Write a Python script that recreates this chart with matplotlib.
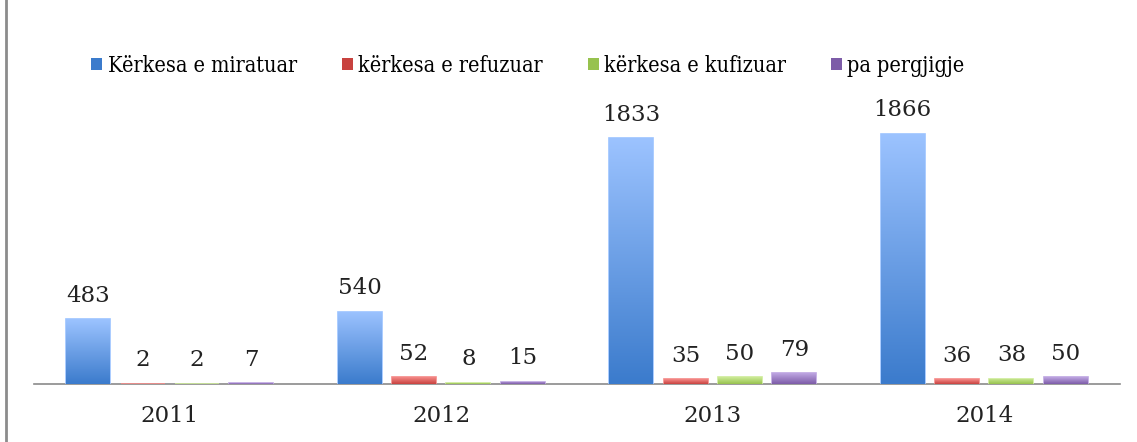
import numpy as np
import matplotlib.pyplot as plt
from matplotlib.patches import Patch
from matplotlib.lines import Line2D

years = ['2011', '2012', '2013', '2014']
series_names = ['Kërkesa e miratuar', 'kërkesa e refuzuar',
                'kërkesa e kufizuar', 'pa pergjigje']
miratuar = [483, 540, 1833, 1866]
refuzuar = [2, 52, 35, 36]
kufizuar = [2, 8, 50, 38]
pa_pergjigje = [7, 15, 79, 50]
series_values = [miratuar, refuzuar, kufizuar, pa_pergjigje]

# (top colour, bottom colour) for the gradient fill
colors = [('#9CC3FF', '#3B7BCC'),
          ('#F58A88', '#C8423F'),
          ('#CDEB98', '#97C24E'),
          ('#BEA6E2', '#7D5CA8')]

plt.rcParams['font.family'] = ['DejaVu Serif']

fig = plt.figure(figsize=(11.37, 4.42), dpi=100)
ax = fig.add_axes([34 / 1137, 58 / 442, 1086 / 1137, 268 / 442])

x = np.arange(len(years))
width = 0.162
step = 0.2
grad = np.linspace(1, 0, 256).reshape(-1, 1)

for i, (vals, (c_top, c_bot)) in enumerate(zip(series_values, colors)):
    pos = x + (i - 1.5) * step
    bars = ax.bar(pos, vals, width, color=c_top, edgecolor=c_top,
                  linewidth=1.2, zorder=2)
    cmap = plt.matplotlib.colors.LinearSegmentedColormap.from_list(
        'g%d' % i, [c_bot, c_top])
    for b, v in zip(bars, vals):
        x0, y0 = b.get_x(), b.get_y()
        im = ax.imshow(grad, extent=[x0, x0 + b.get_width(), y0, y0 + v],
                       aspect='auto', cmap=cmap, zorder=3)
        im.set_clip_path(b)
        ax.annotate(str(v), (b.get_x() + b.get_width() / 2, v),
                    xytext=(0, 9), textcoords='offset points',
                    ha='center', va='bottom', fontsize=16.5,
                    color='#222222')

ax.set_xlim(-0.5, 3.5)
ax.set_ylim(0, 2000)
ax.set_xticks(x)
ax.set_xticklabels(years, fontsize=16.5)
ax.tick_params(axis='x', length=0, pad=15, colors='#222222')
ax.set_yticks([])
for side in ['top', 'right', 'left']:
    ax.spines[side].set_visible(False)
ax.spines['bottom'].set_color('#8A8A8A')
ax.spines['bottom'].set_linewidth(1.2)
ax.spines['bottom'].set_zorder(1)

handles = [Patch(facecolor=c[1], edgecolor='none') for c in colors]
fig.legend(handles, series_names, loc='center', ncol=4,
           bbox_to_anchor=(528 / 1137, 1 - 66 / 442), frameon=False,
           prop={'size': 15.5, 'stretch': 'condensed'},
           handlelength=0.5, handleheight=0.5,
           handletextpad=0.25, columnspacing=2.1)

fig.add_artist(Line2D([6 / 1137, 6 / 1137], [0, 1], color='#8C8C8C',
                      linewidth=2))

fig.savefig('out.png', dpi=100)
